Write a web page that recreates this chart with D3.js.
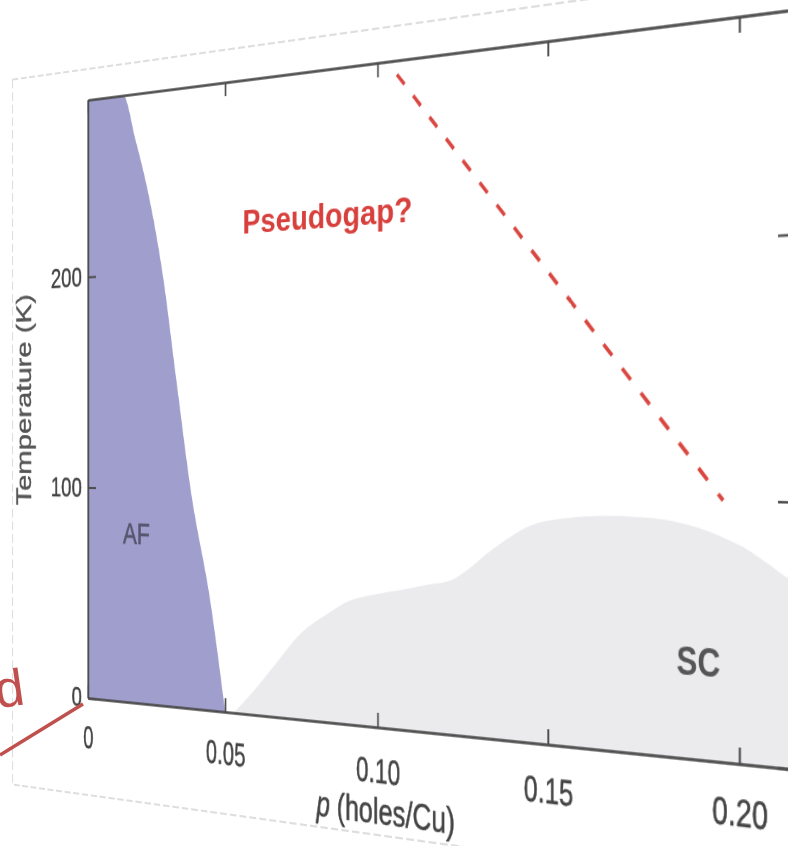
<!DOCTYPE html>
<html>
<head>
<meta charset="utf-8">
<script src="https://cdn.jsdelivr.net/npm/d3@7"></script>
<style>
html, body { margin: 0; padding: 0; background: #fff; width: 788px; height: 846px; overflow: hidden; }
#plane { position: absolute; left: 0; top: 0; transform-origin: 0 0; }
#overlay { position: absolute; left: 0; top: 0; }
</style>
</head>
<body>
<div id="plane"></div>
<svg id="overlay" width="788" height="846"></svg>
<script>
// Phase diagram values (p in holes/Cu, T in K)
var afP = [0, 0.0133, 0.018, 0.0223, 0.0281, 0.0328, 0.0379, 0.045, 0.050];
var afT = [284, 284, 262, 239, 197, 150, 100, 48, 0];

var scP = [0.053, 0.060, 0.068, 0.0756, 0.084, 0.0917, 0.100, 0.1073, 0.115, 0.1223, 0.128, 0.134, 0.1453, 0.155, 0.1671, 0.1853, 0.2002, 0.2118, 0.2125];
var scT = [0, 11, 25, 38, 47, 53.7, 57, 59.2, 62, 64.4, 70, 77.5, 88.2, 91.5, 93, 91, 83, 71.4, 71];

var pgP = [0.106, 0.196];
var pgT = [278, 100];

var xTicks = [0, 0.05, 0.10, 0.15, 0.20];
var xTickLabels = ["0", "0.05", "0.10", "0.15", "0.20"];
var yTicks = [0, 100, 200];
var yTickLabels = ["0", "100", "200"];

var pDomain = [0, 0.2125];
var tDomain = [0, 284];

// flat chart, later bent into the tilted plane of the photo
var margin = { top: 60, left: 160 };
var pw = 820, ph = 598;
var flatW = 1040, flatH = 800;
var font = '"Liberation Sans", Arial, sans-serif';

// where the plot corners land on the page (TL, TR, BR, BL)
var corners = [[88, 100], [791, 10], [791, 769], [88, 698]];

function solve(A, b) {
    var n = b.length;
    for (var i = 0; i < n; i++) {
        var max = i;
        for (var r = i + 1; r < n; r++) if (Math.abs(A[r][i]) > Math.abs(A[max][i])) max = r;
        var tmp = A[i]; A[i] = A[max]; A[max] = tmp;
        var tb = b[i]; b[i] = b[max]; b[max] = tb;
        for (var r2 = i + 1; r2 < n; r2++) {
            var f = A[r2][i] / A[i][i];
            for (var c = i; c < n; c++) A[r2][c] -= f * A[i][c];
            b[r2] -= f * b[i];
        }
    }
    var x = new Array(n);
    for (var k = n - 1; k >= 0; k--) {
        var s = b[k];
        for (var j = k + 1; j < n; j++) s -= A[k][j] * x[j];
        x[k] = s / A[k][k];
    }
    return x;
}

function homography(src, dst) {
    var A = [], b = [];
    for (var i = 0; i < 4; i++) {
        var x = src[i][0], y = src[i][1], X = dst[i][0], Y = dst[i][1];
        A.push([x, y, 1, 0, 0, 0, -x * X, -y * X]); b.push(X);
        A.push([0, 0, 0, x, y, 1, -x * Y, -y * Y]); b.push(Y);
    }
    return solve(A, b);
}

var src = [
    [margin.left, margin.top],
    [margin.left + pw, margin.top],
    [margin.left + pw, margin.top + ph],
    [margin.left, margin.top + ph]
];
var h = homography(src, corners);

d3.select("#plane")
    .style("width", flatW + "px")
    .style("height", flatH + "px")
    .style("transform", "matrix3d(" + [h[0], h[3], 0, h[6], h[1], h[4], 0, h[7], 0, 0, 1, 0, h[2], h[5], 0, 1].join(",") + ")");

var svg = d3.select("#plane").append("svg")
    .attr("width", flatW)
    .attr("height", flatH)
    .style("display", "block");

// faint outline of the figure picture
svg.append("rect")
    .attr("x", margin.left - 115)
    .attr("y", margin.top - 31)
    .attr("width", flatW)
    .attr("height", 726)
    .attr("fill", "none")
    .attr("stroke", "#d4d4d4")
    .attr("stroke-width", 1.5)
    .attr("stroke-dasharray", "9,4");

var g = svg.append("g").attr("transform", "translate(" + margin.left + "," + margin.top + ")");

var x = d3.scaleLinear().domain(pDomain).range([0, pw]);
var y = d3.scaleLinear().domain(tDomain).range([ph, 0]);

g.append("clipPath").attr("id", "clip")
    .append("rect").attr("width", pw).attr("height", ph);

var plot = g.append("g").attr("clip-path", "url(#clip)");

// superconducting dome
var scData = scP.map((p, i) => ({ p: p, t: scT[i] }));
plot.append("path")
    .datum(scData)
    .attr("fill", "#ebebee")
    .attr("d", d3.area().curve(d3.curveCatmullRom.alpha(0.5))
        .x(d => x(d.p)).y0(y(0)).y1(d => y(d.t)));

// antiferromagnet
var afData = afP.map((p, i) => ({ p: p, t: afT[i] }));
plot.append("path")
    .datum(afData)
    .attr("fill", "#a09ecd")
    .attr("d", d3.area().curve(d3.curveMonotoneX)
        .x(d => x(d.p)).y0(y(0)).y1(d => y(d.t)));

// pseudogap line
plot.append("line")
    .attr("x1", x(pgP[0])).attr("y1", y(pgT[0]))
    .attr("x2", x(pgP[1])).attr("y2", y(pgT[1]))
    .attr("stroke", "#d9463f")
    .attr("stroke-width", 3.5)
    .attr("stroke-dasharray", "13,15");

// axes, ticks pointing inwards on all four sides
var axisColor = "#4a4a4a";
function styleAxis(sel) {
    sel.select(".domain").attr("stroke", axisColor).attr("stroke-width", 2.6);
    sel.selectAll(".tick line").attr("stroke", axisColor).attr("stroke-width", 2);
    sel.selectAll(".tick text").attr("fill", "#444")
        .attr("stroke", "#444").attr("stroke-width", 0.5);
}

g.append("g")
    .attr("transform", "translate(0," + ph + ")")
    .style("font-family", font).style("font-size", "31px")
    .call(d3.axisBottom(x).tickValues(xTicks).tickFormat((d, i) => xTickLabels[i])
        .tickSizeInner(-13).tickSizeOuter(0).tickPadding(28))
    .call(styleAxis)
    .call(a => a.selectAll(".tick text").attr("transform", "scale(0.88,1)"));

g.append("g")
    .call(d3.axisTop(x).tickValues(xTicks).tickFormat("")
        .tickSizeInner(-13).tickSizeOuter(0))
    .call(styleAxis);

g.append("g")
    .style("font-family", font).style("font-size", "28px")
    .call(d3.axisLeft(y).tickValues(yTicks).tickFormat((d, i) => yTickLabels[i])
        .tickSizeInner(-12).tickSizeOuter(0).tickPadding(9))
    .call(styleAxis);

g.append("g")
    .attr("transform", "translate(" + pw + ",0)")
    .call(d3.axisRight(y).tickValues(yTicks).tickFormat("")
        .tickSizeInner(-12).tickSizeOuter(0))
    .call(styleAxis);

// axis titles
g.append("text")
    .attr("transform", "translate(-86," + (ph / 2) + ") rotate(-90) scale(1,1.1)")
    .attr("text-anchor", "middle")
    .style("font-family", font).style("font-size", "30px")
    .attr("fill", "#555").attr("stroke", "#555").attr("stroke-width", 0.5)
    .text("Temperature (K)");

var xt = g.append("text")
    .attr("transform", "translate(" + x(0.102) + "," + (ph + 87) + ") scale(0.92,1)")
    .attr("text-anchor", "middle")
    .style("font-family", font).style("font-size", "33px")
    .attr("fill", "#444").attr("stroke", "#444").attr("stroke-width", 0.5);
xt.append("tspan").style("font-style", "italic").text("p");
xt.append("tspan").text(" (holes/Cu)");

// region labels
g.append("text")
    .attr("x", x(0.0182)).attr("y", y(79.4))
    .attr("dy", "0.36em")
    .attr("text-anchor", "middle")
    .style("font-family", font).style("font-size", "30px")
    .attr("fill", "#57566f").attr("stroke", "#57566f").attr("stroke-width", 0.6)
    .text("AF");

g.append("text")
    .attr("transform", "translate(" + x(0.1898) + "," + y(37.9) + ") scale(0.93,1)")
    .attr("dy", "0.36em")
    .attr("text-anchor", "middle")
    .style("font-family", font).style("font-size", "33px").style("font-weight", "bold")
    .attr("fill", "#555")
    .text("SC");

g.append("text")
    .attr("transform", "translate(" + x(0.056) + "," + y(215) + ") scale(1.1,1)")
    .style("font-family", font).style("font-size", "32px").style("font-weight", "bold")
    .attr("fill", "#d7403c")
    .text("Pseudogap?");

// red callout on the slide, drawn flat on the page
var callout = { x1: 0, y1: 755, x2: 83, y2: 704 };
var ov = d3.select("#overlay");
ov.append("line")
    .attr("x1", callout.x1).attr("y1", callout.y1)
    .attr("x2", callout.x2).attr("y2", callout.y2)
    .attr("stroke", "#c0504d")
    .attr("stroke-width", 3.5);
ov.append("text")
    .attr("x", 24).attr("y", 706)
    .attr("text-anchor", "end")
    .attr("transform", "rotate(-8,12,690)")
    .style("font-family", font).style("font-size", "52px")
    .attr("fill", "#c0504d")
    .text("d");
</script>
</body>
</html>
